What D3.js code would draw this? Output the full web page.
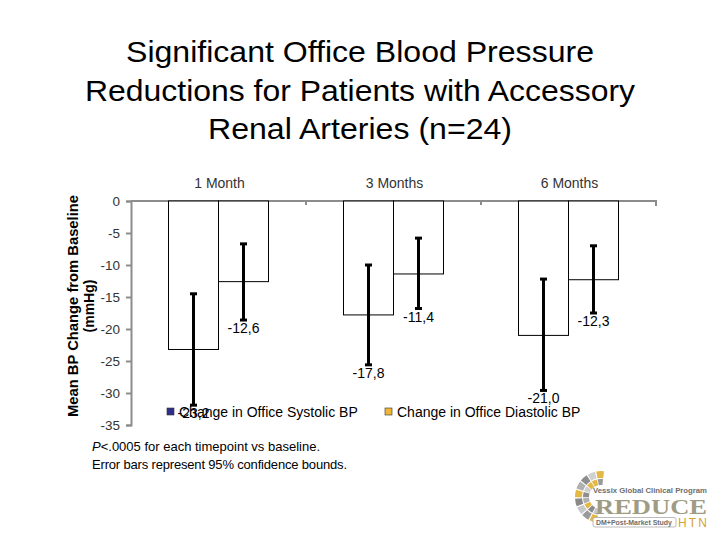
<!DOCTYPE html>
<html><head><meta charset="utf-8">
<script src="https://cdn.jsdelivr.net/npm/d3@7"></script>
<style>body{margin:0;background:#fff}svg{display:block}</style>
</head><body>
<script>
const categories = ["1 Month", "3 Months", "6 Months"];
const seriesNames = ["Change in Office Systolic BP", "Change in Office Diastolic BP"];
const legendColors = ["#2e2e8c", "#f2b632"];
const systolic = [-23.2, -17.8, -21.0];
const diastolic = [-12.6, -11.4, -12.3];
const systolicCIHigh = [-14.5, -10.0, -12.2];
const systolicCILow = [-31.9, -25.6, -29.6];
const diastolicCIHigh = [-6.7, -5.8, -7.0];
const diastolicCILow = [-18.6, -16.8, -17.5];
const yTicks = [0, -5, -10, -15, -20, -25, -30, -35];
const titleLines = ["Significant Office Blood Pressure", "Reductions for Patients with Accessory", "Renal Arteries (n=24)"];
const footnotes = ["for each timepoint vs baseline.", "Error bars represent 95% confidence bounds."];

const W = 720, H = 540;
const svg = d3.select("body").append("svg").attr("width", W).attr("height", H);
const font = "'Liberation Sans', Arial, sans-serif";

// title
const titleWidths = [468, 550, 304];
svg.append("g").selectAll("text").data(titleLines).join("text")
  .attr("x", 360).attr("y", (d, i) => 62 + i * 38.5)
  .attr("text-anchor", "middle").attr("font-family", font).attr("font-size", 30)
  .attr("textLength", (d, i) => titleWidths[i]).attr("lengthAdjust", "spacingAndGlyphs")
  .attr("fill", "#000").text(d => d);

const x0 = d3.scaleBand().domain(categories).range([131, 656]).paddingInner(0).paddingOuter(0);
const x1 = d3.scaleBand().domain([0, 1]).range([0, 100]);
const groupOffset = (x0.bandwidth() - 100) / 2;
const y = d3.scaleLinear().domain([0, -35]).range([201, 425]);

// y axis
const yAxis = d3.axisLeft(y).tickValues(yTicks).tickSize(5).tickPadding(6).tickFormat(d => d === 0 ? "0" : d3.format("d")(d).replace("−", "-"));
const gy = svg.append("g").attr("transform", "translate(131,0)").call(yAxis);
gy.select(".domain").attr("stroke", "#8c8c8c").attr("stroke-width", 2);
gy.selectAll(".tick line").attr("stroke", "#8c8c8c").attr("stroke-width", 2);
gy.selectAll(".tick text").attr("font-family", font).attr("font-size", 13.5).attr("fill", "#333");

// x axis on top (at zero)
const xAxis = d3.axisBottom(x0).tickSize(0).tickFormat("");
const gx = svg.append("g").attr("transform", `translate(0,${y(0)})`).call(xAxis);
gx.select(".domain").attr("stroke", "#8c8c8c").attr("stroke-width", 2).attr("d", `M131,0H656V5`);
svg.append("g").selectAll("line").data(categories.slice(1)).join("line")
  .attr("x1", d => x0(d)).attr("x2", d => x0(d))
  .attr("y1", y(0)).attr("y2", y(0) + 4)
  .attr("stroke", "#8c8c8c").attr("stroke-width", 2);

// category labels
svg.append("g").selectAll("text").data(categories).join("text")
  .attr("x", d => x0(d) + x0.bandwidth() / 2 + 1).attr("y", 188)
  .attr("text-anchor", "middle").attr("font-family", font).attr("font-size", 14)
  .attr("fill", "#333").text(d => d);

// data
const rows = categories.map((c, i) => [
  { c, s: 0, v: systolic[i], hi: systolicCIHigh[i], lo: systolicCILow[i] },
  { c, s: 1, v: diastolic[i], hi: diastolicCIHigh[i], lo: diastolicCILow[i] }
]).flat();

const bx = d => x0(d.c) + groupOffset + x1(d.s);
const cx = d => bx(d) + x1.bandwidth() / 2;

svg.append("g").selectAll("rect").data(rows).join("rect")
  .attr("x", bx).attr("y", y(0))
  .attr("width", x1.bandwidth()).attr("height", d => y(d.v) - y(0))
  .attr("fill", "#fff").attr("stroke", "#000").attr("stroke-width", 1);

// error bars
const eb = svg.append("g").attr("stroke", "#000").attr("stroke-width", 3);
eb.selectAll("line.v").data(rows).join("line").attr("class", "v")
  .attr("x1", cx).attr("x2", cx).attr("y1", d => y(d.hi)).attr("y2", d => y(d.lo));
eb.selectAll("line.t").data(rows).join("line").attr("class", "t")
  .attr("x1", d => cx(d) - 3.5).attr("x2", d => cx(d) + 3.5).attr("y1", d => y(d.hi)).attr("y2", d => y(d.hi));
eb.selectAll("line.b").data(rows).join("line").attr("class", "b")
  .attr("x1", d => cx(d) - 3.5).attr("x2", d => cx(d) + 3.5).attr("y1", d => y(d.lo)).attr("y2", d => y(d.lo));

// value labels
svg.append("g").selectAll("text").data(rows).join("text")
  .attr("x", cx).attr("y", d => y(d.lo) + 13)
  .attr("text-anchor", "middle").attr("font-family", font).attr("font-size", 14)
  .attr("fill", "#000").text(d => d3.format(".1f")(d.v).replace("−", "-").replace(".", ","));

// legend
const legX = [167, 385];
const lg = svg.append("g").selectAll("g").data(seriesNames).join("g")
  .attr("transform", (d, i) => `translate(${legX[i]},408)`);
lg.append("rect").attr("width", 7).attr("height", 7).attr("fill", (d, i) => legendColors[i])
  .attr("stroke", "#333").attr("stroke-width", 0.6);
lg.append("text").attr("x", 12).attr("y", 8.5).attr("font-family", font).attr("font-size", 14)
  .attr("fill", "#000").text(d => d);

// y axis title
const yt = svg.append("text").attr("transform", "translate(78,306) rotate(-90)")
  .attr("text-anchor", "middle").attr("font-family", font).attr("font-size", 14)
  .attr("font-weight", "bold").attr("fill", "#000");
yt.append("tspan").attr("x", 0).attr("dy", 0).attr("textLength", 222).attr("lengthAdjust", "spacingAndGlyphs").text("Mean BP Change from Baseline");
yt.append("tspan").attr("x", 0).attr("dy", 16).text("(mmHg)");

// footnotes
const fn = svg.append("g").attr("font-family", font).attr("font-size", 13).attr("fill", "#000");
const f1 = fn.append("text").attr("x", 92).attr("y", 451);
f1.append("tspan").attr("font-style", "italic").text("P");
f1.append("tspan").text("<.0005 " + footnotes[0]);
fn.append("text").attr("x", 92).attr("y", 469).attr("textLength", 255).text(footnotes[1]);

// logo
const logo = svg.append("g");
const segs = d3.range(9);
const segColors = ["#e3b845", "#9a9a9a", "#c8c8c8", "#8a8a8a", "#e3b845", "#b0b0b0", "#8e8e8e", "#d0d0d0", "#e3b845"];
[[19, 26], [12, 18]].forEach((r, ri) => {
  logo.append("g").attr("transform", "translate(601,497)").selectAll("path").data(segs).join("path")
    .attr("d", (d, i) => d3.arc()({ innerRadius: r[0], outerRadius: r[1],
      startAngle: -Math.PI * 0.95 + i * 0.35, endAngle: -Math.PI * 0.95 + i * 0.35 + 0.3 }))
    .attr("fill", (d, i) => segColors[(i + ri * 2) % segColors.length]);
});
logo.append("text").attr("x", 593).attr("y", 493).attr("font-family", font).attr("font-size", 7)
  .attr("font-weight", "bold").attr("fill", "#6e6e6e").attr("textLength", 114).attr("lengthAdjust", "spacingAndGlyphs")
  .text("Vessix Global Clinical Program");
logo.append("text").attr("x", 595).attr("y", 514).attr("font-family", "'Liberation Serif', serif").attr("font-size", 22)
  .attr("font-weight", "bold").attr("fill", "#a09c84").attr("textLength", 112).attr("lengthAdjust", "spacingAndGlyphs").text("REDUCE");
logo.append("rect").attr("x", 593).attr("y", 517.5).attr("width", 83).attr("height", 9.5)
  .attr("fill", "#fff").attr("stroke", "#aaa").attr("stroke-width", 0.8).attr("rx", 2);
logo.append("text").attr("x", 596).attr("y", 525).attr("font-family", font).attr("font-size", 7)
  .attr("font-weight", "bold").attr("fill", "#6e6e6e").attr("textLength", 76).attr("lengthAdjust", "spacingAndGlyphs").text("DM+Post-Market Study");
logo.append("text").attr("x", 678).attr("y", 527).attr("font-family", font).attr("font-size", 12)
  .attr("fill", "#d8a035").attr("textLength", 29).text("HTN");
</script>
</body></html>
